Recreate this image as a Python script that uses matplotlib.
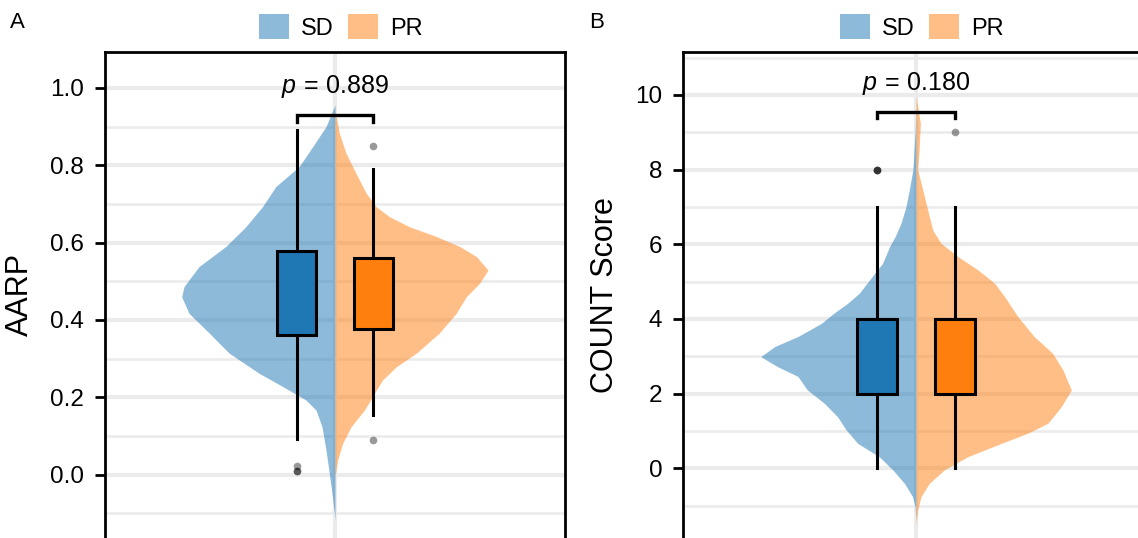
import matplotlib
matplotlib.use("Agg")
import matplotlib.pyplot as plt
from matplotlib.patches import Patch

plt.rcParams['font.family'] = ['Liberation Sans', 'DejaVu Sans']
plt.rcParams['mathtext.fontset'] = 'custom'
plt.rcParams['mathtext.rm'] = 'Liberation Sans'
plt.rcParams['mathtext.it'] = 'Liberation Sans:italic'

groups = ['SD', 'PR']
box_colors = ['#1F77B4', '#FF7F0E']

# panel A: AARP
aarp_sd_y = [0.956, 0.90, 0.848, 0.797, 0.745, 0.693, 0.641, 0.590, 0.538, 0.486, 0.46,
             0.417, 0.366, 0.314, 0.262, 0.228, 0.193, 0.167, 0.124, 0.064, 0.003,
             -0.048, -0.091, -0.117]
aarp_sd_w = [0, 0.059, 0.146, 0.233, 0.386, 0.473, 0.582, 0.712, 0.887, 0.985, 1.0,
             0.952, 0.82, 0.69, 0.495, 0.342, 0.19, 0.124, 0.085, 0.059, 0.037,
             0.02, 0.007, 0]
aarp_pr_y = [0.943, 0.883, 0.831, 0.779, 0.728, 0.693, 0.667, 0.641, 0.616, 0.590, 0.564,
             0.529, 0.495, 0.46, 0.417, 0.366, 0.314, 0.279, 0.245, 0.21, 0.167, 0.124,
             0.081, 0.038, 0.012, -0.005]
aarp_pr_w = [0, 0.028, 0.072, 0.137, 0.203, 0.268, 0.355, 0.486, 0.66, 0.813, 0.922,
             0.998, 0.943, 0.856, 0.79, 0.68, 0.53, 0.40, 0.31, 0.257, 0.192, 0.105,
             0.05, 0.017, 0.007, 0]
# q1, median, q3, whisker low, whisker high
aarp_box_sd = [0.361, 0.472, 0.579, 0.091, 0.89]
aarp_box_pr = [0.376, 0.492, 0.561, 0.153, 0.79]
aarp_out_sd = [0.021, 0.010, 0.010]
aarp_out_pr = [0.851, 0.090]
aarp_p = 0.889

# panel B: COUNT Score
count_sd_y = [9.6, 8.97, 8.0, 7.46, 7.0, 6.56, 6.2, 5.94, 5.49, 5.04, 4.69, 4.42, 4.15,
              3.88, 3.53, 3.26, 2.99, 2.72, 2.46, 2.10, 1.74, 1.38, 1.03, 0.67, 0.31,
              -0.04, -0.40, -0.76, -1.03, -1.38]
count_sd_w = [0, 0.006, 0.02, 0.043, 0.065, 0.097, 0.135, 0.17, 0.215, 0.30, 0.365, 0.44,
              0.53, 0.61, 0.76, 0.91, 1.0, 0.89, 0.76, 0.70, 0.59, 0.505, 0.45, 0.376,
              0.237, 0.15, 0.075, 0.022, 0.006, 0]
count_pr_y = [9.96, 9.24, 8.53, 8.0, 7.46, 6.92, 6.38, 6.03, 5.67, 5.31, 4.96, 4.60, 4.06,
              3.53, 3.08, 2.63, 2.10, 1.65, 1.21, 0.94, 0.67, 0.31, -0.04, -0.40, -0.76,
              -1.12, -1.5]
count_pr_w = [0, 0.028, 0.02, 0.011, 0.043, 0.075, 0.108, 0.16, 0.27, 0.40, 0.505, 0.57,
              0.656, 0.76, 0.88, 0.946, 1.0, 0.935, 0.85, 0.72, 0.55, 0.333, 0.183, 0.086,
              0.032, 0.011, 0]
count_box_sd = [2, 3, 4, 0, 7]
count_box_pr = [2, 3, 4, 0, 7]
count_out_sd = [8, 8, 8]
count_out_pr = [9]
count_p = 0.180


def panel(ax, sd_y, sd_w, pr_y, pr_w, box_sd, box_pr, out_sd, out_pr, pval,
          ylim, yticks, ylabels, minor, ylabel, bracket):
    ax.set_xlim(-1.5, 1.5)
    ax.set_ylim(*ylim)

    # split violin halves
    ax.fill_betweenx(sd_y, 0, [-w for w in sd_w], color=box_colors[0], alpha=0.5,
                     linewidth=0, zorder=2)
    ax.fill_betweenx(pr_y, 0, pr_w, color=box_colors[1], alpha=0.5,
                     linewidth=0, zorder=2)

    stats = []
    for b, out in [(box_sd, out_sd), (box_pr, out_pr)]:
        stats.append(dict(q1=b[0], med=b[1], q3=b[2], whislo=b[3], whishi=b[4],
                          fliers=out))
    bp = ax.bxp(stats, positions=[-0.25, 0.25], widths=0.255, patch_artist=True,
                showcaps=False, manage_ticks=False,
                boxprops=dict(edgecolor='black', linewidth=2.2),
                whiskerprops=dict(color='black', linewidth=2.2),
                medianprops=dict(color='black', linewidth=4.8, solid_capstyle='butt'),
                flierprops=dict(marker='o', markerfacecolor='black', alpha=0.4,
                                markeredgecolor='none', markersize=5.5))
    for patch, c in zip(bp['boxes'], box_colors):
        patch.set_facecolor(c)
        patch.set_zorder(3)

    # significance bracket
    top, tip = bracket
    ax.plot([-0.25, -0.25, 0.25, 0.25], [tip, top, top, tip], color='black',
            linewidth=2.4, zorder=4, solid_joinstyle='miter')
    ax.text(0, top + (ylim[1] - ylim[0]) * 0.046, r'$p\,=\,%.3f$' % pval,
            ha='center', va='baseline', fontsize=18)

    ax.set_yticks(yticks)
    ax.set_yticklabels(ylabels)
    ax.set_yticks(minor, minor=True)
    ax.set_xticks([0])
    ax.set_axisbelow(True)
    ax.grid(which='major', axis='y', color='#EBEBEB', linewidth=3)
    ax.grid(which='minor', axis='y', color='#EBEBEB', linewidth=1.8)
    ax.grid(which='major', axis='x', color='#EBEBEB', linewidth=3)
    ax.tick_params(axis='x', bottom=False, labelbottom=False)
    ax.tick_params(axis='y', which='major', length=7, width=2.0, pad=8,
                   labelsize=17.5, color='black')
    ax.tick_params(axis='y', which='minor', left=False)
    ax.spines['bottom'].set_visible(False)
    for s in ['left', 'right', 'top']:
        ax.spines[s].set_linewidth(2.0)
    ax.set_ylabel(ylabel, fontsize=22, labelpad=11)

    handles = [Patch(facecolor=c, alpha=0.5, edgecolor='none') for c in box_colors]
    ax.legend(handles, groups, loc='center', bbox_to_anchor=(0.513, 1.052), ncol=2,
              frameon=False, fontsize=17, handlelength=1.27, handleheight=1.27,
              handletextpad=0.5, columnspacing=0.6, borderaxespad=0)


fig = plt.figure(figsize=(11.38, 5.38), dpi=100)
ax_a = fig.add_axes([105 / 1138, 0, 460 / 1138, 486 / 538])
ax_b = fig.add_axes([683 / 1138, 0, 466 / 1138, 486 / 538])

panel(ax_a, aarp_sd_y, aarp_sd_w, aarp_pr_y, aarp_pr_w, aarp_box_sd, aarp_box_pr,
      aarp_out_sd, aarp_out_pr, aarp_p, (-0.164, 1.093),
      [0.0, 0.2, 0.4, 0.6, 0.8, 1.0], ['0.0', '0.2', '0.4', '0.6', '0.8', '1.0'],
      [-0.1, 0.1, 0.3, 0.5, 0.7, 0.9], 'AARP', (0.93, 0.912))
panel(ax_b, count_sd_y, count_sd_w, count_pr_y, count_pr_w, count_box_sd, count_box_pr,
      count_out_sd, count_out_pr, count_p, (-1.867, 11.15),
      [0, 2, 4, 6, 8, 10], ['0', '2', '4', '6', '8', '10'],
      [-1, 1, 3, 5, 7, 9, 11], 'COUNT Score', (9.53, 9.37))

fig.text(10 / 1138, 1 - 22 / 538, 'A', fontsize=16, va='center', ha='left')
fig.text(589 / 1138, 1 - 22 / 538, 'B', fontsize=16, va='center', ha='left')

fig.savefig('out.png', dpi=100)
